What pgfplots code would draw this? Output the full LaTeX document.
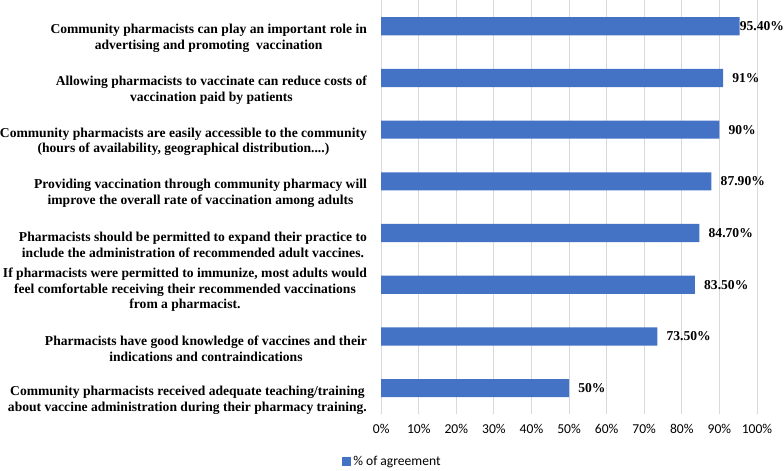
\documentclass[border=0pt]{standalone}
\usepackage{pgfplots}
\pgfplotsset{compat=1.18}
\usepackage{fontspec}
\setmainfont{Liberation Serif}
\newfontfamily\calibri{Carlito}
\definecolor{barblue}{HTML}{4472C4}
\definecolor{gridgray}{HTML}{D9D9D9}
\newcommand\fourdots{....}

\begin{document}
\begin{tikzpicture}
  \begin{axis}[
    xbar,
    scale only axis,
    width=373.4pt,
    height=411pt,
    xmin=0, xmax=100,
    ymin=-0.5, ymax=7.5,
    bar width=18pt,
    xtick={0,10,20,30,40,50,60,70,80,90,100},
    xticklabels={0\%,10\%,20\%,30\%,40\%,50\%,60\%,70\%,80\%,90\%,100\%},
    xticklabel style={font=\calibri\fontsize{13.5}{16}\selectfont, yshift=-7pt},
    ytick={0,1,2,3,4,5,6,7},
    yticklabels={
      {Community pharmacists received adequate teaching/training\\about vaccine administration during their pharmacy training.},
      {Pharmacists have good knowledge of vaccines and their\\indications and contraindications},
      {If pharmacists were permitted to immunize, most adults would\\feel comfortable receiving their recommended vaccinations\\from a pharmacist.},
      {Pharmacists should be permitted to expand their practice to\\include the administration of recommended adult vaccines.},
      {Providing vaccination through community pharmacy will\\improve the overall rate of vaccination among adults},
      {Community pharmacists are easily accessible to the community\\(hours of availability, geographical distribution\fourdots)},
      {Allowing pharmacists to vaccinate can reduce costs of\\vaccination paid by patients},
      {Community pharmacists can play an important role in\\advertising and promoting\ \ vaccination}
    },
    yticklabel style={
      font=\fontsize{13.5}{15.5}\selectfont\bfseries,
      align=center,
      inner sep=0pt,
      xshift=-14pt,
      yshift={ifthenelse(\ticknum==2,-5,-12)}
    },
    major tick length=0pt,
    axis line style={draw=none},
    xmajorgrids,
    major grid style={gridgray, line width=0.8pt},
    clip=false,
    visualization depends on={x \as \rawx},
    nodes near coords,
    point meta=explicit symbolic,
    nodes near coords style={
      font=\fontsize{13.5}{16}\selectfont\bfseries,
      anchor=west, inner sep=0pt,
      xshift={ifthenelse(\rawx>95,0,9)}
    },
    legend style={
      at={(0.03,-0.115)}, anchor=center,
      draw=none, fill=none,
      font=\calibri\fontsize{13.5}{16}\selectfont,
      legend cell align=left
    },
    legend image code/.code={\fill[barblue] (0pt,-4.5pt) rectangle (9pt,4.5pt);},
  ]
    \addplot[fill=barblue, draw=none] coordinates {
      (95.4,7) [95.40\%]
      (91,6) [91\%]
      (90,5) [90\%]
      (87.9,4) [87.90\%]
      (84.7,3) [84.70\%]
      (83.5,2) [83.50\%]
      (73.5,1) [73.50\%]
      (50,0) [50\%]
    };
    \addlegendentry{\% of agreement}
  \end{axis}
\end{tikzpicture}
\end{document}
